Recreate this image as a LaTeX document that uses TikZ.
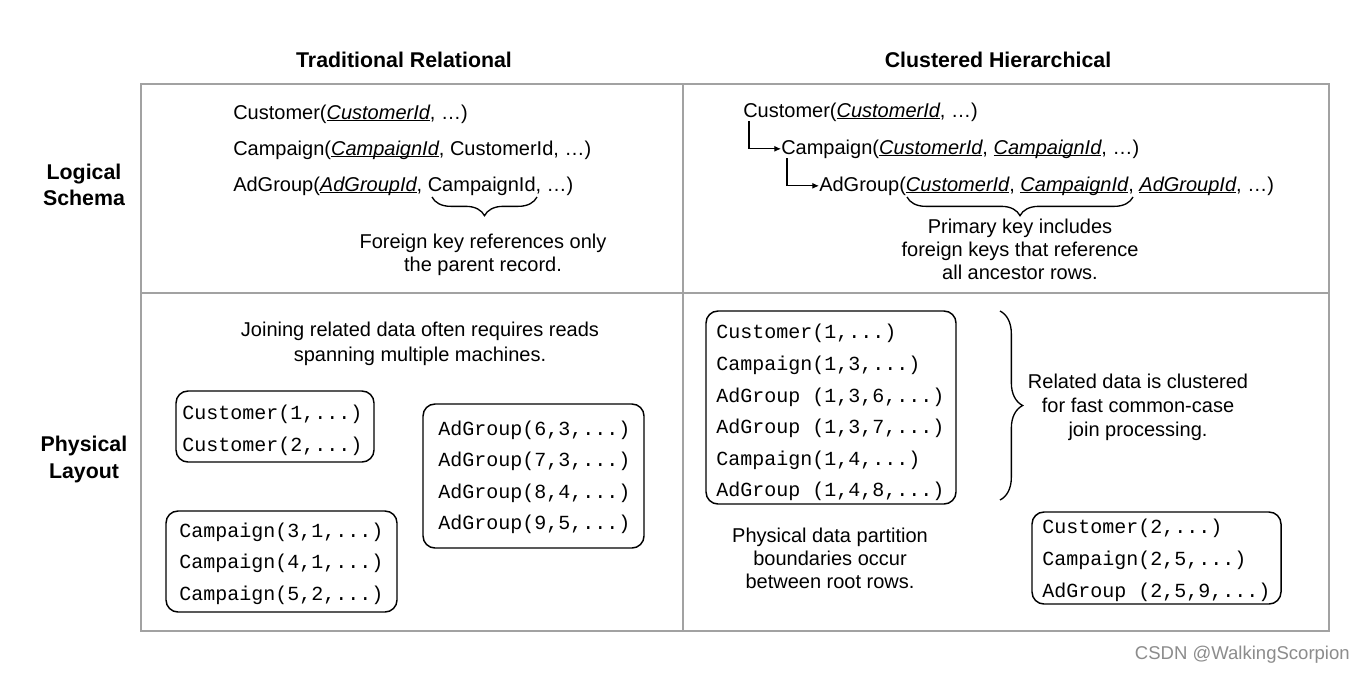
\documentclass[tikz,border=0pt]{standalone}
\usepackage{fontspec}
\setmainfont{Liberation Sans}
\setmonofont{Liberation Mono}
\usetikzlibrary{arrows.meta,decorations.pathreplacing}
\definecolor{gridgray}{HTML}{A2A2A2}
\definecolor{wmgray}{HTML}{8C8C8C}
\newsavebox\ulbox
\newcommand\uit[1]{\sbox\ulbox{\itshape #1}\rlap{\rule[-1.6pt]{\wd\ulbox}{0.8pt}}\usebox\ulbox}
\begin{document}
\begin{tikzpicture}[x=0.75pt,y=-0.75pt,
  gridline/.style={draw=gridgray,line width=1.5pt},
  lt/.style={inner sep=0pt,anchor=base west,font=\fontsize{15}{18}\selectfont},
  captxt/.style={inner sep=0pt,anchor=base,font=\fontsize{15}{18}\selectfont},
  head/.style={inner sep=0pt,anchor=base,font=\fontsize{16}{19}\selectfont\bfseries},
  mono/.style={inner sep=0pt,anchor=base west,font=\fontsize{15}{18}\selectfont\ttfamily},
  rbox/.style={draw=black,line width=1.1pt,rounded corners=9pt},
  conn/.style={draw,line width=0.8pt,-{Latex[length=5pt,width=4.5pt]}},
  brc/.style={draw,line width=1pt,decorate,decoration={brace,amplitude=#1}}]
\fill[white] (0,0) rectangle (1366,672);
\useasboundingbox (0,0) rectangle (1366,672);

% table grid
\draw[gridline] (141,84) rectangle (1329,631);
\draw[gridline] (683,84) -- (683,631);
\draw[gridline] (141,293) -- (1329,293);

% headings
\node[head] (h1) at (404,67) {Traditional Relational};
\node[head] (h2) at (998,67) {Clustered Hierarchical};
\node[head] (r1a) at (84,179) {Logical};
\node[head] (r1b) at (84,205) {Schema};
\node[head] (r2a) at (84,451) {Physical};
\node[head] (r2b) at (84,478) {Layout};

% top-left logical schema
\node[lt] (l1) at (233,119) {Customer(\uit{CustomerId}, …)};
\node[lt] (l2) at (233,155) {Campaign(\uit{CampaignId}, CustomerId, …)};
\node[lt] (l3) at (233,191) {AdGroup(\uit{AdGroupId}, CampaignId, …)};
\coordinate (lb1) at (432,197);
\coordinate (lb2) at (537,197);
\draw[brc=14pt] (lb2) -- (lb1);
\node[captxt] (lc1) at (483,248) {Foreign key references only};
\node[captxt] (lc2) at (483,271) {the parent record.};

% top-right logical schema
\node[lt] (c1) at (743,117) {Customer(\uit{CustomerId}, …)};
\node[lt] (c2) at (781,154) {Campaign(\uit{CustomerId}, \uit{CampaignId}, …)};
\node[lt] (c3) at (819,191) {AdGroup(\uit{CustomerId}, \uit{CampaignId}, \uit{AdGroupId}, …)};
\draw[conn] ([xshift=4.5pt]c1.south west) |- (c2.west);
\draw[conn] ([xshift=4.5pt]c2.south west) |- (c3.west);
\coordinate (rb1) at (907,197);
\coordinate (rb2) at (1133,197);
\draw[brc=14pt] (rb2) -- (rb1);
\node[captxt] (rc1) at (1020,233) {Primary key includes};
\node[captxt] (rc2) at (1020,256) {foreign keys that reference};
\node[captxt] (rc3) at (1020,279) {all ancestor rows.};

% bottom-left physical layout
\node[captxt] (j1) at (420,336) {Joining related data often requires reads};
\node[captxt] (j2) at (420,361) {spanning multiple machines.};

\draw[rbox] (176,391) rectangle (374,462);
\node[mono] (a1) at (182,419) {Customer(1,...)};
\node[mono] (a2) at (182,451) {Customer(2,...)};

\draw[rbox] (166,511) rectangle (397,612);
\node[mono] (b1) at (179,537) {Campaign(3,1,...)};
\node[mono] (b2) at (179,568) {Campaign(4,1,...)};
\node[mono] (b3) at (179,600) {Campaign(5,2,...)};

\draw[rbox] (423,404) rectangle (644,548);
\node[mono] (g1) at (438,435) {AdGroup(6,3,...)};
\node[mono] (g2) at (438,466) {AdGroup(7,3,...)};
\node[mono] (g3) at (438,498) {AdGroup(8,4,...)};
\node[mono] (g4) at (438,529) {AdGroup(9,5,...)};

% bottom-right physical layout
\draw[rbox] (706,311) rectangle (956,504);
\node[mono] (d1) at (716,338) {Customer(1,...)};
\node[mono] (d2) at (716,370) {Campaign(1,3,...)};
\node[mono] (d3) at (716,402) {AdGroup (1,3,6,...)};
\node[mono] (d4) at (716,433) {AdGroup (1,3,7,...)};
\node[mono] (d5) at (716,465) {Campaign(1,4,...)};
\node[mono] (d6) at (716,496) {AdGroup (1,4,8,...)};

\coordinate (bb1) at (1000,311);
\coordinate (bb2) at (1000,500);
\draw[brc=17pt] (bb1) -- (bb2);
\node[captxt] (k1) at (1138,388) {Related data is clustered};
\node[captxt] (k2) at (1138,412) {for fast common-case};
\node[captxt] (k3) at (1138,436) {join processing.};

\node[captxt] (p1) at (830,542) {Physical data partition};
\node[captxt] (p2) at (830,565) {boundaries occur};
\node[captxt] (p3) at (830,588) {between root rows.};

\draw[rbox] (1032,512) rectangle (1281,604);
\node[mono] (e1) at (1042,533) {Customer(2,...)};
\node[mono] (e2) at (1042,565) {Campaign(2,5,...)};
\node[mono] (e3) at (1042,597) {AdGroup (2,5,9,...)};

% watermark
\node[inner sep=0pt,anchor=base east,text=wmgray,font=\fontsize{13.9}{16}\selectfont] (wm) at (1350,659) {CSDN @WalkingScorpion};
\end{tikzpicture}
\end{document}
